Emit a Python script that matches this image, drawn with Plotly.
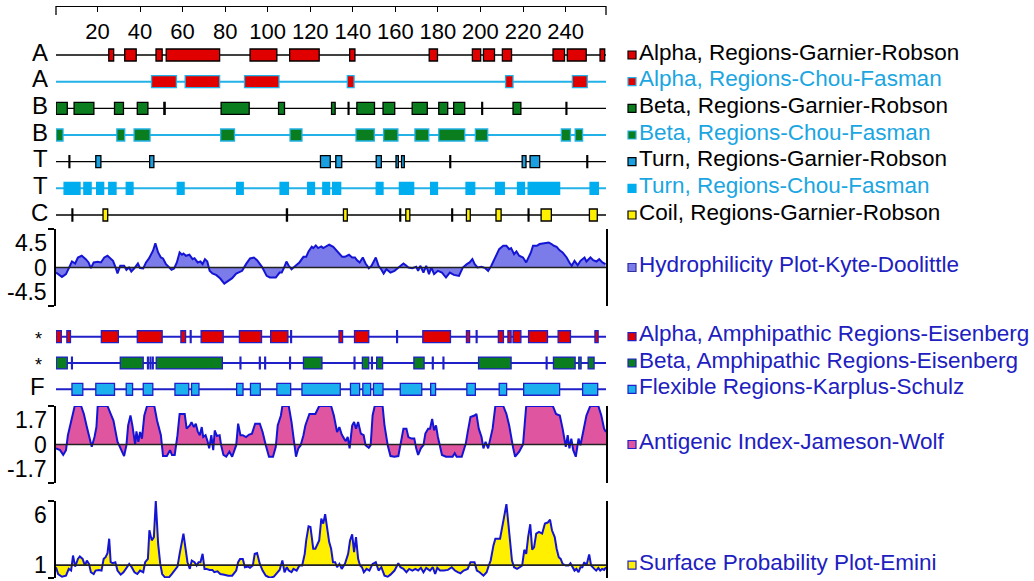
import plotly.graph_objects as go

W, H = 1034, 581
FONT = "Liberation Sans, Arial, sans-serif"

# ---------------- data ----------------
residue_range = [0.5, 259]
top_ticks = [20, 40, 60, 80, 100, 120, 140, 160, 180, 200, 220, 240]

# secondary-structure tracks (start / end residue of each region)
alpha_gr_start = [25.3, 32.8, 47.5, 52.3, 91.7, 110.3, 138.5, 175.9, 196.2, 201.4, 210.3, 234.1, 240.8, 256.2]
alpha_gr_end = [27.6, 38.2, 50.4, 77.4, 104.3, 124.2, 141.0, 179.8, 200.1, 206.6, 214.6, 239.5, 249.7, 258.4]

alpha_cf_start = [45.4, 61.2, 89.1, 137.4, 211.8, 243.2]
alpha_cf_end = [57.1, 77.4, 105.3, 140.6, 215.3, 250.2]

beta_gr_start = [0.6, 9.0, 28.0, 38.7, 51.2, 78.1, 105.1, 130.0, 137.8, 141.9, 154.2, 167.9, 180.4, 187.4, 200.6, 215.3, 240.2]
beta_gr_end = [5.8, 18.3, 32.2, 43.7, 51.8, 91.3, 107.9, 131.7, 138.2, 150.2, 159.7, 175.0, 184.6, 192.6, 201.0, 219.0, 240.6]

beta_cf_start = [0.6, 29.1, 37.2, 77.9, 110.5, 141.5, 154.5, 169.2, 180.4, 197.6, 238.0, 244.5]
beta_cf_end = [3.8, 32.8, 44.7, 84.4, 116.1, 150.1, 161.2, 175.7, 192.6, 203.4, 242.3, 248.0]

turn_gr_start = [6.6, 19.2, 44.5, 124.8, 132.0, 151.0, 160.3, 162.9, 185.6, 219.6, 223.3, 250.0]
turn_gr_end = [7.0, 21.6, 46.5, 129.4, 134.8, 153.4, 161.4, 164.2, 186.0, 221.4, 227.8, 250.4]

turn_cf_start = [4.3, 13.6, 19.6, 25.3, 33.5, 57.5, 85.4, 105.8, 118.8, 125.9, 130.5, 151.0, 161.9, 176.6, 193.2, 207.1, 217.4, 222.4, 251.5]
turn_cf_end = [11.8, 17.0, 22.9, 28.7, 36.7, 60.7, 88.5, 109.7, 122.0, 129.1, 134.3, 154.2, 168.6, 179.8, 197.3, 211.2, 220.7, 237.2, 255.4]

coil_gr_start = [8.0, 22.6, 108.8, 135.6, 162.1, 164.9, 186.5, 193.4, 207.3, 222.4, 228.5, 251.2]
coil_gr_end = [8.4, 24.8, 109.3, 137.4, 162.5, 166.8, 186.9, 195.2, 209.7, 222.8, 233.3, 254.9]

# amphipathic / flexible tracks
amph_alpha_start = [0.6, 5.6, 21.8, 38.7, 59.2, 63.6, 68.7, 86.7, 101.4, 110.8, 133.5, 140.8, 160.6, 172.9, 193.4, 198.0, 208.4, 212.9, 215.3, 222.6, 236.5, 253.8]
amph_alpha_end = [3.0, 7.3, 29.8, 50.4, 61.4, 64.0, 79.1, 97.1, 109.5, 111.2, 135.2, 147.5, 161.0, 185.9, 194.9, 198.4, 210.8, 214.4, 219.0, 231.5, 242.3, 255.3]

amph_beta_start = [0.6, 7.8, 30.7, 43.5, 44.7, 45.8, 47.6, 87.0, 96.1, 98.6, 110.3, 116.8, 140.6, 144.5, 148.8, 151.2, 168.7, 177.4, 182.4, 199.1, 230.9, 234.3, 246.2, 250.6]
amph_beta_end = [5.8, 8.2, 41.5, 43.9, 45.1, 46.2, 78.7, 87.4, 96.5, 99.0, 110.7, 125.5, 141.0, 147.5, 149.2, 154.0, 173.5, 177.8, 182.8, 214.4, 231.3, 244.5, 247.3, 253.4]

flex_start = [8.0, 19.2, 33.5, 41.5, 56.4, 64.2, 85.4, 91.9, 104.3, 116.1, 138.9, 144.7, 149.7, 162.3, 176.6, 193.6, 208.8, 220.3, 248.0]
flex_end = [13.1, 28.0, 36.5, 46.0, 62.9, 67.7, 88.4, 96.5, 110.8, 134.1, 143.2, 148.4, 154.2, 172.4, 178.9, 197.6, 212.3, 237.2, 255.1]

# Hydrophilicity plot (Kyte-Doolittle)
hydro_pos = [0.5, 3.3, 5.2, 6.5, 8.0, 9.5, 10.8, 12.6, 14.5, 15.8, 16.9, 18.2, 20.1, 21.6, 23.2, 24.7, 26.2, 27.3,
             28.4, 29.4, 30.7, 32.5, 33.6, 34.8, 35.9, 37.4, 39.0, 40.0, 41.5, 42.8, 44.2, 46.1, 47.2, 48.5, 49.8,
             50.8, 52.2, 53.6, 54.8, 56.0, 57.3, 58.6, 59.7, 60.4, 61.6, 63.2, 64.7, 65.6, 67.1, 68.4, 69.4, 70.5,
             71.6, 72.7, 74.0, 75.9, 77.7, 79.6, 81.4, 83.3, 85.2, 88.0, 89.8, 91.7, 93.5, 95.0, 97.3, 99.5, 101.0,
             103.8, 105.6, 106.6, 107.7, 108.8, 109.9, 111.2, 113.1, 114.9, 116.8, 118.1, 119.2, 120.7, 121.4,
             122.6, 123.7, 125.2, 126.1, 128.9, 130.8, 132.2, 133.9, 135.0, 136.3, 138.2, 139.7, 141.0, 141.9,
             143.2, 144.7, 146.0, 147.5, 148.8, 150.8, 152.1, 153.1, 154.5, 155.8, 157.7, 159.6, 161.4, 163.8,
             165.2, 166.1, 168.0, 169.8, 170.7, 171.7, 173.2, 174.5, 175.8, 176.9, 178.2, 180.0, 181.9, 183.8,
             185.6, 187.5, 189.9, 191.7, 193.6, 194.9, 196.2, 197.3, 198.6, 200.5, 202.3, 203.6, 205.1, 207.0,
             208.8, 210.7, 212.2, 213.5, 214.4, 215.8, 216.9, 218.2, 220.0, 221.5, 223.7, 224.7, 226.5, 227.8,
             229.7, 232.1, 233.4, 234.5, 235.8, 237.1, 238.6, 240.5, 241.8, 242.9, 244.2, 245.7, 247.0, 248.9,
             249.8, 251.7, 253.0, 254.5, 255.8, 257.3, 258.8]
hydro_val = [-0.59, -1.10, -0.78, 0.0, 0.70, 0.47, 1.17, 1.37, 0.98, 0.59, -0.08, 0.59, 0.66, 0.59, 1.17, 1.37, 1.06, 0.78,
             0.08, -0.70, 0.20, 0.20, -0.27, 0.0, -0.47, -0.08, 0.47, -0.08, -0.12, 0.59, 1.06, 1.96, 2.82, 1.76, 1.17,
             1.06, 0.39, 0.0, -0.27, -0.12, 0.59, 1.76, 1.49, 1.64, 1.37, 1.49, 0.98, 1.09, 0.59, 0.70, 0.39, 0.98,
             0.70, -0.39, -0.70, -0.90, -1.29, -1.88, -1.56, -1.25, -0.70, -0.39, 0.39, 1.06, 1.17, 0.86, 0.08, -0.98, -1.17,
             -1.17, -0.59, -0.59, 0.0, 0.70, 0.20, -0.20, 0.20, 0.59, 1.25, 1.25, 1.88, 2.42, 2.27,
             2.58, 2.27, 2.46, 2.27, 2.66, 2.42, 2.03, 1.56, 1.25, 1.25, 1.49, 1.17, 1.17, 0.86,
             0.59, 1.17, 0.47, -0.08, 0.20, 1.17, 0.20, -0.12, -0.70, -0.20, -0.59, -0.39, 0.0, 0.47,
             0.20, 0.0, -0.08, 0.08, -0.39, 0.20, -0.59, 0.20, -0.78, 0.0, -0.78, -0.39, -0.59, -1.17,
             -0.59, -0.86, -0.98, 0.0, 0.39, 0.59, 0.98, 0.39, 0.0, 0.08, -0.08, -0.39, 0.20, 1.17,
             2.15, 2.54, 2.54, 2.15, 2.27, 1.56, 1.88, 1.37, 1.17, 0.59, 1.76, 2.54, 2.54, 2.74,
             2.82, 2.93, 2.74, 2.54, 2.42, 2.03, 1.76, 1.17, 0.59, 0.20, 0.78, 0.27, 0.78, 1.17,
             0.70, 1.17, 0.86, 0.70, 0.98, 0.59, 0.39]

# Antigenic index (Jameson-Wolf)
anti_pos = [0.5, 2.4, 3.9, 5.2, 6.1, 7.0, 8.0, 9.3, 12.3, 13.6, 15.0, 16.3, 17.3, 18.6, 19.5, 20.1, 24.7, 26.2, 27.5,
            29.4, 30.9, 32.5, 33.6, 34.4, 35.5, 36.4, 37.7, 38.3, 39.2, 40.0, 40.9, 42.0, 43.3, 46.7, 48.0, 49.8,
            50.8, 52.6, 54.1, 55.0, 56.3, 57.6, 58.6, 61.0, 61.9, 63.4, 64.2, 65.3, 66.2, 67.1, 68.1, 69.0, 69.7,
            70.8, 71.8, 72.5, 73.5, 74.4, 75.1, 76.1, 77.4, 78.1, 79.2, 80.5, 82.0, 83.3, 85.2, 86.1, 87.2, 88.3,
            89.8, 91.3, 92.6, 94.1, 96.3, 97.6, 99.1, 100.6, 102.5, 103.8, 104.7, 106.2, 106.9, 109.9, 111.2,
            112.1, 113.3, 114.4, 115.5, 116.8, 117.7, 119.6, 122.4, 124.2, 129.8, 131.1, 132.6, 133.7, 134.8,
            135.9, 136.7, 137.6, 138.5, 139.7, 140.6, 141.5, 142.5, 143.8, 145.1, 146.0, 147.5, 148.4, 149.3,
            150.3, 154.0, 154.9, 156.4, 157.7, 159.6, 161.4, 162.7, 163.8, 165.2, 166.1, 167.6, 168.9, 169.8,
            170.7, 172.0, 173.2, 174.1, 175.4, 176.3, 177.3, 178.2, 179.1, 180.0, 181.0, 181.9, 183.8, 186.9,
            187.9, 188.8, 191.2, 193.1, 194.0, 195.3, 197.2, 198.1, 199.2, 200.5, 201.4, 202.4, 203.6, 204.8,
            205.7, 207.0, 210.7, 212.2, 213.5, 215.4, 216.3, 218.2, 220.0, 221.5, 234.0, 235.5, 237.3, 238.6,
            240.1, 241.0, 241.8, 242.7, 243.6, 244.8, 246.1, 247.0, 247.9, 248.8, 249.8, 251.6, 255.4, 256.8,
            258.1, 259.0]
anti_val = [-0.17, -0.25, -0.46, -0.25, 0.41, 0.77, 1.28, 1.70, 1.70, 1.35, 0.77, 0.19, -0.10, 0.33, 0.77, 1.70, 1.70, 1.35, 1.06,
            0.12, -0.17, -0.51, -0.03, 0.84, 1.28, 0.84, 0.0, 0.58, 0.12, 0.55, 0.26, 1.28, 1.70, 1.70, 1.06, 0.41,
            -0.51, -0.51, -0.25, -0.46, -0.46, 0.41, 1.35, 1.35, 0.70, 0.84, 0.99, 0.77, 0.92, 0.58, 0.41, 0.77, 0.33,
            0.41, 0.12, -0.17, 0.41, -0.25, 0.62, 0.38, 0.41, -0.03, -0.46, -0.54, -0.32, -0.54, -0.03, 0.92, 0.41, 0.41,
            0.33, 0.44, 0.48, 0.92, 0.92, 0.55, -0.03, -0.54, -0.54, -0.10, 0.84, 1.28, 1.70, 1.70, 0.99,
            0.26, -0.54, -0.17, -0.03, 0.41, 0.84, 1.35, 1.35, 1.70, 1.70, 1.28, 0.55, 0.77, 0.44,
            0.26, 0.15, 0.33, -0.17, 0.84, 0.99, 0.70, 0.99, 0.48, 0.41, -0.03, -0.15, -0.03, 1.28,
            1.70, 1.70, 0.84, -0.03, -0.51, -0.54, -0.51, 0.12, 0.70, 0.70, 0.33, 0.26, 0.26, -0.17,
            -0.46, -0.17, -0.03, 0.48, 0.70, 0.70, 1.13, 0.62, 0.84, 0.33, -0.03, -0.46, -0.54, -0.54,
            -0.39, -0.54, -0.54, 0.04, 0.55, 1.21, 1.28, 1.35, 0.70, 0.33, -0.17, 0.12, -0.17, 0.41,
            0.70, 1.70, 1.70, 1.35, 0.84, -0.17, -0.54, -0.32, 0.0, 1.70, 1.70, 1.35, 1.28, 0.70,
            -0.10, 0.41, -0.17, 0.26, -0.25, -0.54, 0.26, -0.03, 0.41, 0.70, 1.28, 1.70, 1.70, 1.28,
            0.70, 0.55]

# Surface probability (Emini)
surf_pos = [0.5, 1.5, 3.3, 5.2, 6.5, 7.6, 8.5, 9.5, 10.8, 11.7, 13.0, 14.1, 15.0, 16.0, 16.9, 18.2, 19.1, 20.6, 21.9,
            22.9, 23.8, 24.7, 25.5, 26.2, 27.1, 28.4, 29.4, 30.9, 32.2, 33.6, 34.9, 35.9, 37.4, 38.7, 40.0, 41.5,
            42.4, 43.7, 44.4, 45.5, 46.5, 47.4, 48.5, 49.5, 50.4, 51.7, 53.6, 54.9, 56.3, 57.6, 58.6, 59.7, 60.4,
            61.4, 62.3, 63.4, 64.3, 65.6, 66.6, 67.5, 68.4, 69.4, 70.3, 71.2, 72.7, 74.0, 74.9, 76.4, 77.7, 79.6,
            81.4, 83.3, 85.2, 86.1, 87.0, 88.3, 89.3, 90.8, 91.7, 93.0, 93.9, 95.0, 96.3, 97.6, 99.1, 101.0,
            102.9, 104.7, 105.6, 106.9, 107.9, 109.0, 109.9, 111.2, 112.1, 113.6, 114.9, 116.2, 117.4, 118.1,
            119.2, 120.1, 121.4, 122.4, 123.3, 124.2, 125.2, 126.1, 127.0, 128.0, 128.9, 129.8, 130.7, 131.7,
            132.6, 133.7, 134.8, 136.3, 137.8, 138.7, 139.7, 140.6, 141.5, 142.5, 143.4, 144.3, 145.2, 146.5,
            147.8, 149.3, 150.8, 152.1, 153.4, 154.9, 156.4, 157.7, 159.6, 161.4, 162.4, 163.8, 165.2, 166.5,
            168.0, 169.4, 170.7, 172.0, 173.2, 174.5, 176.3, 177.6, 178.7, 179.7, 181.0, 182.8, 184.7, 186.5,
            188.0, 189.3, 190.6, 192.1, 194.0, 195.3, 197.2, 198.3, 199.6, 201.4, 202.9, 203.9, 204.8, 206.1,
            207.0, 209.2, 210.4, 211.1, 212.2, 213.2, 214.1, 214.8, 215.8, 217.2, 218.5, 219.6, 220.6, 221.5,
            222.4, 223.4, 224.3, 225.2, 226.2, 227.5, 229.0, 230.3, 231.6, 232.7, 233.6, 234.9, 235.8, 236.8,
            237.7, 238.6, 240.1, 241.4, 242.3, 243.3, 244.2, 245.1, 246.1, 247.0, 247.9, 248.8, 249.8, 251.1,
            252.0, 253.5, 254.4, 255.4, 256.3, 257.2, 258.1, 259.0]
surf_val = [0.84, 0.31, 0.10, 0.18, 0.71, 0.58, 1.75, 0.89, 1.49, 1.68, 1.49, 0.97, 1.36, 1.10, 0.45, 0.31, 0.58, 0.63, 0.58,
            1.49, 1.62, 1.94, 3.06, 1.23, 1.15, 1.23, 0.58, 0.26, 0.45, 0.79, 1.10, 0.89, 0.45, 0.31, 0.58, 0.45,
            1.23, 1.49, 3.72, 2.93, 3.19, 5.99, 2.67, 1.10, 0.31, 0.05, 0.05, 0.31, 0.58, 0.89, 1.88, 2.98, 3.46,
            2.28, 1.23, 0.71, 1.36, 1.23, 0.97, 1.23, 1.23, 1.88, 0.71, 0.71, 0.63, 0.63, 0.45, 0.52, 0.31, 0.26,
            0.18, 0.18, 0.58, 1.23, 1.49, 1.49, 0.84, 0.89, 0.79, 0.97, 1.88, 1.94, 1.10, 0.58, 0.18, 0.02,
            0.10, 0.45, 0.63, 1.36, 0.45, 0.84, 0.58, 0.45, 0.71, 0.58, 0.97, 0.97, 1.88, 2.93,
            4.03, 3.98, 2.28, 2.28, 2.67, 2.93, 4.63, 4.24, 4.97, 3.72, 2.80, 2.28, 1.23, 1.23,
            0.84, 1.10, 0.71, 1.10, 1.88, 2.93, 3.40, 2.02, 3.19, 1.49, 0.97, 0.84, 0.45, 0.71,
            0.58, 1.10, 1.23, 0.58, 0.84, 0.18, 0.10, 0.26, 0.58, 1.15, 0.84, 0.71, 0.45, 0.71,
            0.58, 0.71, 0.58, 0.79, 0.45, 0.79, 0.58, 0.84, 0.31, 0.79, 0.58, 0.58, 0.63, 0.84,
            0.58, 0.45, 0.37, 0.58, 0.71, 1.23, 1.23, 0.58, 0.45, 0.18, 0.45, 0.97, 1.36, 2.54,
            3.06, 3.06, 3.98, 4.76, 5.76, 3.98, 2.28, 1.36, 0.84, 0.71, 0.84, 0.97, 2.20, 1.88,
            3.19, 4.19, 2.20, 2.41, 3.46, 3.59, 3.46, 4.24, 4.32, 4.55, 3.72, 3.19, 2.28, 1.62,
            1.49, 1.10, 0.97, 0.97, 1.15, 0.79, 0.58, 0.71, 0.45, 0.84, 0.84, 1.23, 0.97, 1.83,
            0.97, 0.71, 0.58, 0.79, 0.58, 0.71, 0.63, 0.84]

# ---------------- styles ----------------
RED = "#e00000"
GREEN = "#0a7d1e"
TURN_BLUE = "#1a9fe0"
CYAN = "#00aeef"
CF_LINE = "#22b2e8"
YELLOW = "#fff000"
FLEX = "#1cb0ee"
BLUE = "#2020c8"
HYDRO_FILL = "#7b7bea"
ANTI_FILL = "#df55a0"
CURVE = "#1414d4"
TXT_CYAN = "#1ba6e1"
TXT_BLUE = "#2020c0"


def py(p):
    return 1 - p / H


fig = go.Figure()

top_rows = [
    ("A", alpha_gr_start, alpha_gr_end, RED, "black", "black", 1.3, "Alpha, Regions-Garnier-Robson", "black"),
    ("A", alpha_cf_start, alpha_cf_end, RED, CF_LINE, CF_LINE, 2, "Alpha, Regions-Chou-Fasman", TXT_CYAN),
    ("B", beta_gr_start, beta_gr_end, GREEN, "black", "black", 1.3, "Beta, Regions-Garnier-Robson", "black"),
    ("B", beta_cf_start, beta_cf_end, GREEN, CF_LINE, CF_LINE, 2, "Beta, Regions-Chou-Fasman", TXT_CYAN),
    ("T", turn_gr_start, turn_gr_end, TURN_BLUE, "black", "black", 1.3, "Turn, Regions-Garnier-Robson", "black"),
    ("T", turn_cf_start, turn_cf_end, CYAN, CYAN, CF_LINE, 2, "Turn, Regions-Chou-Fasman", TXT_CYAN),
    ("C", coil_gr_start, coil_gr_end, YELLOW, "black", "black", 1.3, "Coil, Regions-Garnier-Robson", "black"),
]
mid_rows = [
    ("*", amph_alpha_start, amph_alpha_end, RED, BLUE, BLUE, 2, "Alpha, Amphipathic Regions-Eisenberg", TXT_BLUE),
    ("*", amph_beta_start, amph_beta_end, GREEN, BLUE, BLUE, 2, "Beta, Amphipathic Regions-Eisenberg", TXT_BLUE),
    ("F", flex_start, flex_end, FLEX, BLUE, BLUE, 2, "Flexible Regions-Karplus-Schulz", TXT_BLUE),
]

shapes = []
annotations = []


def legend_item(text, color, yref, yval, fill, border):
    shapes.append(dict(type="rect", xref="paper", x0=628 / W, x1=636 / W, yref=yref,
                       ysizemode="pixel", yanchor=yval, y0=-4, y1=4,
                       fillcolor=fill, line=dict(color=border, width=1.2), layer="above"))
    annotations.append(dict(text=text, xref="paper", x=637 / W, xanchor="left", yref=yref, y=yval,
                            yanchor="middle", yshift=3, showarrow=False,
                            font=dict(family=FONT, size=22.5, color=color)))


def add_rows(rows, yaxis, yref):
    for i, (lab, st, en, fill, border, linec, lw, legtext, legcol) in enumerate(rows):
        shapes.append(dict(type="line", xref="x domain", x0=0, x1=1, yref=yref, y0=i, y1=i,
                           line=dict(color=linec, width=lw), layer="below"))
        fig.add_trace(go.Bar(orientation="h", base=st, x=[e - s for s, e in zip(st, en)], y=[i] * len(st),
                             width=0.45, marker=dict(color=fill, line=dict(color=border, width=1.3)),
                             xaxis="x", yaxis=yaxis, showlegend=False, hoverinfo="skip"))
        small = lab == "*"
        annotations.append(dict(text=lab, xref="paper", x=(44 if small else (47 if lab == "F" else 50)) / W,
                                xanchor="right", yref=yref, y=i, yanchor="middle",
                                yshift=(-2 if small else 3), showarrow=False,
                                font=dict(family=FONT, size=(18 if small else 24), color="black")))
        legend_item(legtext, legcol, yref, i, fill, border)


add_rows(top_rows, "y", "y")
add_rows(mid_rows, "y3", "y3")

# curves
fig.add_trace(go.Scatter(x=hydro_pos, y=hydro_val, mode="lines", fill="tozeroy", fillcolor=HYDRO_FILL,
                         line=dict(color=CURVE, width=2), xaxis="x", yaxis="y2", showlegend=False,
                         hoverinfo="skip"))
fig.add_trace(go.Scatter(x=anti_pos, y=anti_val, mode="lines", fill="tozeroy", fillcolor=ANTI_FILL,
                         line=dict(color=CURVE, width=2), xaxis="x", yaxis="y4", showlegend=False,
                         hoverinfo="skip"))
fig.add_trace(go.Scatter(x=[surf_pos[0], surf_pos[-1]], y=[1, 1], mode="lines", line=dict(width=0),
                         xaxis="x", yaxis="y5", showlegend=False, hoverinfo="skip"))
fig.add_trace(go.Scatter(x=surf_pos, y=surf_val, mode="lines", fill="tonexty", fillcolor=YELLOW,
                         line=dict(color=CURVE, width=2), xaxis="x", yaxis="y5", showlegend=False,
                         hoverinfo="skip"))

# baselines
for yref, val in (("y2", 0), ("y4", 0), ("y5", 1)):
    shapes.append(dict(type="line", xref="x domain", x0=0, x1=1, yref=yref, y0=val, y1=val,
                       line=dict(color="#222222", width=1.6), layer="above"))

# top axis end brackets
for xv in (0, 1):
    shapes.append(dict(type="line", xref="x domain", x0=xv, x1=xv, yref="paper", y0=py(6), y1=py(15),
                       line=dict(color="black", width=1.3)))

# y tick labels of curve panels
for yref, labels in (("y2", [("4.5", 4.5, "top"), ("0", 0, "middle"), ("-4.5", -4.5, "bottom")]),
                     ("y4", [("1.7", 1.7, "top"), ("0", 0, "middle"), ("-1.7", -1.7, "bottom")]),
                     ("y5", [("6", 6, "top"), ("1", 1, "middle")])):
    for txt, val, anc in labels:
        annotations.append(dict(text=txt, xref="paper", x=48 / W, xanchor="right", yref=yref, y=val,
                                yanchor=anc, showarrow=False, borderpad=0,
                                font=dict(family=FONT, size=23, color="black")))

legend_item("Hydrophilicity Plot-Kyte-Doolittle", TXT_BLUE, "y2", 0, HYDRO_FILL, "#3030a0")
legend_item("Antigenic Index-Jameson-Wolf", TXT_BLUE, "y4", 0, ANTI_FILL, BLUE)
legend_item("Surface Probability Plot-Emini", TXT_BLUE, "y5", 1, YELLOW, BLUE)

bracket = dict(showline=True, linecolor="black", linewidth=1.5, mirror=True, ticks="outside", ticklen=6,
               tickwidth=1.5, tickcolor="black", showticklabels=False, showgrid=False, zeroline=False,
               anchor="x")

fig.update_layout(
    width=W, height=H, margin=dict(l=0, r=0, t=0, b=0, autoexpand=False),
    paper_bgcolor="white", plot_bgcolor="white", barmode="overlay",
    font=dict(family=FONT, color="black"),
    xaxis=dict(domain=[56 / W, 606 / W], range=residue_range, anchor="free", position=py(6), side="bottom",
               showline=True, linecolor="black", linewidth=1.3, ticks="outside", ticklen=5, tickwidth=1.3,
               tickcolor="black", tickvals=top_ticks, tickfont=dict(size=22, family=FONT, color="black"),
               showgrid=False, zeroline=False, automargin=False),
    yaxis=dict(domain=[py(228.33), py(41.67)], range=[6.5, -0.5], visible=False, anchor="x"),
    yaxis2=dict(domain=[py(306), py(229)], range=[-4.5, 4.5], tickvals=[-4.5, 4.5], **bracket),
    yaxis3=dict(domain=[py(402.5), py(323.5)], range=[2.5, -0.5], visible=False, anchor="x"),
    yaxis4=dict(domain=[py(483), py(406)], range=[-1.7, 1.7], tickvals=[-1.7, 1.7], **bracket),
    yaxis5=dict(domain=[py(578), py(501)], range=[0, 6], tickvals=[0, 6], **bracket),
    shapes=shapes,
    annotations=annotations,
)

fig.write_html("out.html", config={"displayModeBar": False},
               post_script="document.body.style.margin='0px';document.body.style.overflow='hidden';")
